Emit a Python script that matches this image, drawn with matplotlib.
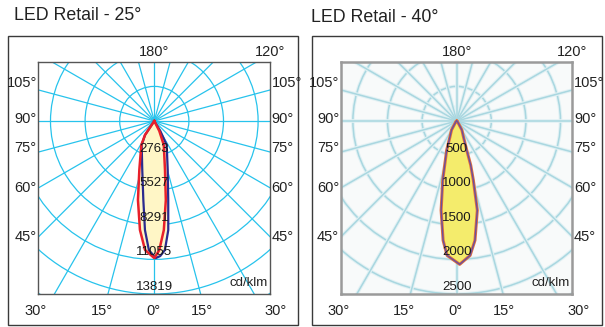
import numpy as np
import matplotlib
matplotlib.use("Agg")
import matplotlib.pyplot as plt
from matplotlib.patches import Circle, Rectangle

# ---- data (cd/klm, angles in degrees, negative = left half) ----
titles = ["LED Retail - 25°", "LED Retail - 40°"]

ring_labels_25 = ["2763", "5527", "8291", "11055", "13819"]
ring_step_25 = 2763.8
ring_labels_40 = ["500", "1000", "1500", "2000", "2500"]
ring_step_40 = 500

red25_angle = [-90, -33.6, -28.4, -17.0, -11.7, -7.5, -4.1, 0.0, 2.2, 5.0, 8.3, 12.3, 21.6, 26.6, 90]
red25_cd = [0, 1340, 2180, 4090, 6440, 8780, 10330, 10950, 10320, 8740, 6380, 4010, 2060, 890, 0]

blue25_angle = [-90, -33.6, -27.7, -13.8, -7.9, -4.9, -2.4, 0.6, 2.5, 4.7, 7.3, 10.0, 15.3, 27.3, 31.0, 90]
blue25_cd = [0, 1340, 2170, 4030, 6370, 8740, 10320, 10950, 10800, 10340, 8780, 6410, 4060, 2160, 930, 0]

c40_angle = [-90, -45, -30, -23, -19, -13.3, -9.9, -6.5, -4.1, 1.2, 5.7, 8.7, 13.0, 15.7, 17.6, 19, 23, 30, 45, 90]
c40_cd = [0, 20, 150, 250, 445, 878, 1309, 1736, 1947, 2072, 1952, 1745, 1324, 888, 670, 445, 250, 150, 20, 0]

side_labels = ["105°", "90°", "75°", "60°", "45°"]
bottom_labels = ["30°", "15°", "0°", "15°", "30°"]

W, H = 605, 327
fig = plt.figure(figsize=(W / 100, H / 100), dpi=100)
plt.rcParams['font.family'] = ['Liberation Sans', 'DejaVu Sans']


def fx(x):
    return x / W


def fy(y):
    return 1 - y / H


def to_xy(angle, cd):
    a = np.radians(angle)
    cd = np.asarray(cd, dtype=float)
    return cd * np.sin(a), -cd * np.cos(a)


def panel(dx, step, ring_labels, faded):
    cx, cy = 154.3 + dx, 121
    x0, x1, y0, y1 = 38.3 + dx, 269.5 + dx, 62.3, 294
    s = step / 34.6
    ax = fig.add_axes([fx(x0), fy(y1), (x1 - x0) / W, (y1 - y0) / H])
    ax.set_xlim((x0 - cx) * s, (x1 - cx) * s)
    ax.set_ylim(-(y1 - cy) * s, (cy - y0) * s)
    ax.set_xticks([])
    ax.set_yticks([])
    if faded:
        ax.set_facecolor('#f8fafa')
        for sp in ax.spines.values():
            sp.set_color('#9a9a9a')
            sp.set_linewidth(1.8)
        layers = [('#e2f1f4', 2.6), ('#a9d7e0', 1.1)]
    else:
        for sp in ax.spines.values():
            sp.set_color('#555555')
            sp.set_linewidth(1.0)
        layers = [('#27c3ec', 0.9)]

    for col, lw in layers:
        for k in range(1, 8):
            ax.add_patch(Circle((0, 0), k * step, fill=False, ec=col, lw=lw))
        for a in range(0, 360, 15):
            gx, gy = to_xy(a, [0, 8 * step])
            ax.plot(gx, gy, color=col, lw=lw)
    if faded:
        for r, al in [(0.9, 0.12), (0.55, 0.2), (0.3, 0.35)]:
            ax.add_patch(Circle((0, 0), r * step * 0.5, fc='#5fc3e0', ec='none', alpha=al))

    # ring labels
    for k, lab in enumerate(ring_labels, start=1):
        ax.text(0, -(k - 0.2) * step, lab, ha='center', va='center',
                fontsize=9.5, color='#1a1a1a', zorder=6)
    ax.text((x1 - 2 - cx) * s, -(283 - cy) * s, "cd/klm", ha='right', va='center',
            fontsize=9.5, color='#222222', zorder=6)

    # angle labels around the box
    fig.text(fx(cx), fy(52), "180°", ha='center', va='center', fontsize=10.5, color='#222222')
    fig.text(fx(270 + dx), fy(52), "120°", ha='center', va='center', fontsize=10.5, color='#222222')
    for lab, yy in zip(side_labels, [83, 119, 148, 188, 237]):
        fig.text(fx(x0 - 1.5), fy(yy), lab, ha='right', va='center', fontsize=10.5, color='#222222')
        fig.text(fx(x1 + 2), fy(yy), lab, ha='left', va='center', fontsize=10.5, color='#222222')
    for lab, xx in zip(bottom_labels, [36, 102, 153, 202, 276]):
        fig.text(fx(xx + dx), fy(311), lab, ha='center', va='center', fontsize=10.5, color='#222222')
    return ax


ax1 = panel(0, ring_step_25, ring_labels_25, False)
bx, by = to_xy(blue25_angle, blue25_cd)
rx, ry = to_xy(red25_angle, red25_cd)
ax1.fill(bx, by, color='#fff6c6', zorder=3)
ax1.fill(rx, ry, color='#fff6c6', zorder=3)
ax1.plot(bx, by, color='#2b2a8e', lw=1.6, zorder=4)
ax1.plot(rx, ry, color='#e8202a', lw=1.8, zorder=5)

ax2 = panel(302.4, ring_step_40, ring_labels_40, True)
x40, y40 = to_xy(c40_angle, c40_cd)
ax2.fill(x40, y40, color='#f4ec6c', zorder=3)
ax2.plot(x40, y40, color='#e2703c', lw=2.2, zorder=4)
ax2.plot(x40, y40, color='#6a4f9e', lw=1.0, zorder=5)

# outer frames
for left in (8.3, 312.3):
    fig.patches.append(Rectangle((fx(left), fy(325)), 290.0 / W, 289.0 / H,
                                 transform=fig.transFigure, fill=False, ec='#3a3a3a', lw=1.0))

fig.text(fx(14), fy(15), titles[0], ha='left', va='center', fontsize=12.8, color='#222222')
fig.text(fx(311), fy(17), titles[1], ha='left', va='center', fontsize=12.8, color='#222222')

fig.savefig("out.png", dpi=100)
